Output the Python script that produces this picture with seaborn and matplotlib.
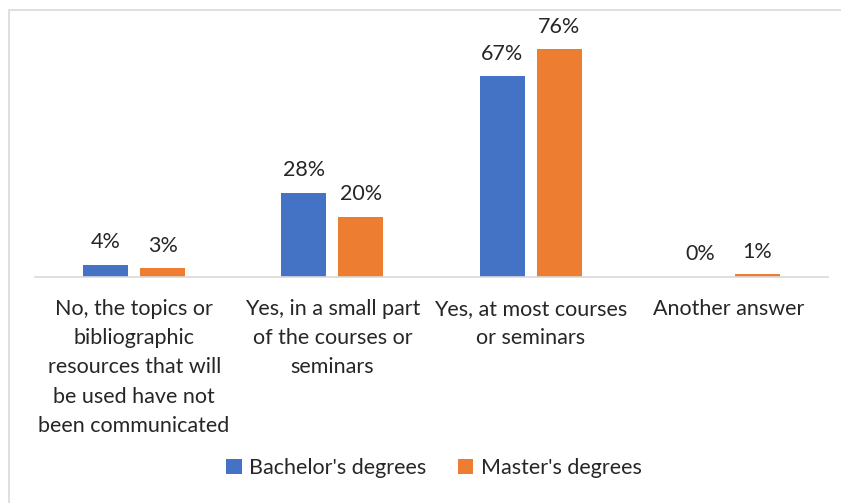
import pandas as pd
import matplotlib.pyplot as plt
import seaborn as sns
from matplotlib.patches import Rectangle

# Dados
categorias = [
    "No, the topics or\nbibliographic\nresources that will\nbe used have not\nbeen communicated",
    "Yes, in a small part\nof the courses or\nseminars",
    "Yes, at most courses\nor seminars",
    "Another answer",
]
bachelor = [4, 28, 67, 0]
master = [3, 20, 76, 1]
series = ["Bachelor's degrees", "Master's degrees"]
cores = ["#4472C4", "#ED7D31"]

df = pd.DataFrame({
    "Categoria": categorias * 2,
    "Valor": bachelor + master,
    "Grau": [series[0]] * 4 + [series[1]] * 4,
})

sns.set_theme(style="white")
plt.rcParams["font.family"] = ["Lato", "DejaVu Sans"]
fs = 15.5

fig = plt.figure(figsize=(8.41, 5.03), dpi=100)
fig.patches.append(Rectangle((9 / 841, -0.1), 1.0, (503 - 10) / 503 + 0.1,
                             transform=fig.transFigure, fill=False,
                             edgecolor="#D9D9D9", linewidth=1.2))

ax = fig.add_axes([35 / 841, (503 - 277) / 503, 793 / 841, 252 / 503])
sns.barplot(data=df, x="Categoria", y="Valor", hue="Grau", palette=cores,
            saturation=1, width=0.576, gap=0.21, linewidth=0, ax=ax, legend=True)

ax.set_ylim(0, 84)
ax.set_xlim(-0.5, 3.5)
ax.set_xlabel("")
ax.set_ylabel("")
ax.set_yticks([])
for s in ["top", "left", "right"]:
    ax.spines[s].set_visible(False)
ax.spines["bottom"].set_color("#D9D9D9")
ax.spines["bottom"].set_linewidth(1.2)
ax.tick_params(axis="x", length=0, pad=16, labelsize=fs, colors="#262626")
for lab in ax.get_xticklabels():
    lab.set_linespacing(1.57)
    lab.set_verticalalignment("top")

for cont in ax.containers:
    ax.bar_label(cont, labels=[f"{v:.0f}%" for v in cont.datavalues],
                 padding=9, fontsize=fs, color="#262626")

handles, labels = ax.get_legend_handles_labels()
ax.legend_.remove()
fig.legend(handles, labels, loc="center", bbox_to_anchor=(434 / 841, (503 - 468) / 503),
           ncol=2, frameon=False, fontsize=fs, handlelength=0.72, handleheight=0.72,
           handletextpad=0.35, columnspacing=1.45, labelcolor="#262626")

fig.savefig("out.png", dpi=100)
